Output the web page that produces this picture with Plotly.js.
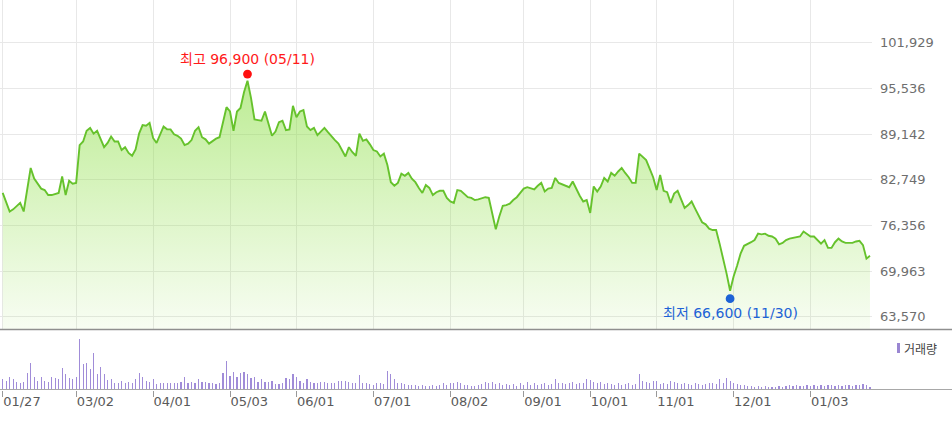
<!DOCTYPE html>
<html><head><meta charset="utf-8">
<script src="https://cdn.plot.ly/plotly-3.0.1.min.js"></script>
<style>html,body{margin:0;padding:0;background:#fff;}#chart{width:952px;height:434px;}</style>
</head><body><div id="chart"></div>
<script>
// ---- data ----
const startDate = '2021-01-27';
const endDate = '2022-01-26';
const holidays = ['2021-02-11','2021-02-12','2021-03-01','2021-05-05','2021-05-19','2021-08-16',
  '2021-09-20','2021-09-21','2021-09-22','2021-10-04','2021-10-11','2021-12-31'];

const closePrices = [
80900,79600,78300,78600,79000,79500,78300,81500,84400,82900,
82200,81500,81300,80600,80600,80800,80900,83200,80600,82600,
82200,82300,87600,88100,89600,90000,89200,89600,88300,87300,
87900,88800,88100,88100,86900,87300,86500,86100,87000,89200,
90400,90300,90700,88600,87900,89200,90200,89800,89800,89100,
88900,88500,87600,87800,88300,89600,90100,88700,88400,87800,
88200,88500,88700,90800,92900,92300,89600,92300,92800,95000,
96600,94200,91200,91100,91000,92300,90600,88900,89500,90800,
91000,89700,89800,93100,91500,92300,92500,90200,89700,90000,
89000,89500,90000,89400,88800,88300,87800,86900,86000,87300,
86600,86100,89200,88200,88400,87700,86900,86700,86000,86400,
84800,82400,81900,82300,83600,83300,83700,82900,82400,81600,
80900,82000,81600,80600,81000,81200,81200,80200,79700,79500,
81300,81200,80800,80300,80200,79900,80000,80200,80300,80200,
77900,75800,77600,79100,79200,79400,79900,80300,80900,81500,
81700,81600,81400,81900,82300,81100,81500,81600,83000,82300,
82100,81900,81700,82500,81400,80500,79700,79900,78100,81800,
81100,81800,83000,82500,83700,83300,83900,84400,83700,83100,
82300,82300,86400,85900,85500,84300,83100,81300,83400,81200,
81000,79500,80800,81200,80100,78800,79200,79700,78700,77700,
76800,76500,75900,75700,75700,73800,71800,69600,67200,69200,
70700,72400,73500,73700,74000,74300,75200,75100,75200,74900,
74800,74500,73700,73900,74300,74500,74600,74700,74800,75500,
75200,74800,74800,74300,73800,74300,73200,73200,74000,74500,
74100,73900,73900,73900,74100,74200,73600,71700,72100
];

// trading volume, thousand shares
const volumes = [
1000,870,1270,1000,770,600,770,1670,2670,1270,870,1270,870,770,1270,1100,1000,2100,1530,1100,1000,1270,
5000,2530,2670,2000,3600,1530,2200,1530,930,1000,
670,600,870,670,770,600,1000,1670,1270,870,770,1000,530,670,670,600,670,600,670,770,1270,600,770,600,1000,770,770,670,670,530,670,
1670,2870,1330,1770,1200,1670,1770,1530,1100,1270,770,1000,770,770,870,530,530,670,1100,1000,
1530,1270,870,670,1000,770,670,670,770,770,600,670,670,870,870,870,770,670,600,1430,670,600,530,430,600,600,530,1870,1530,1000,670,600,530,430,430,
430,330,430,330,330,430,330,430,600,430,670,670,770,600,430,430,330,330,430,
500,770,600,770,500,600,430,500,430,500,330,600,430,770,430,600,430,500,600,430,500,
1000,
600,670,500,600,770,500,600,670,
1000,930,
770,600,770,500,670,500,430,600,430,500,600,430,500,
1530,
870,770,600,870,
870,
500,670,500,
870,
770,600,500,600,500,430,600,500,430,500,600,670,500,
1000,600,1100,870,
670,500,430,430,
330,330,270,330,270,330,270,270,270,330,270,330,430,330,430,330,330,430,330,430,330,430,330,430,430,330,430,330,430,430,330,430,430,500,430,200
];

const tickDates = ['2021-01-27','2021-03-02','2021-04-01','2021-05-03','2021-06-01','2021-07-01',
  '2021-08-02','2021-09-01','2021-10-01','2021-11-01','2021-12-01','2022-01-03'];
const tickLabels = ['01/27','03/02','04/01','05/03','06/01','07/01','08/02','09/01','10/01','11/01','12/01','01/03'];
const priceTicks = [63570, 69963, 76356, 82749, 89142, 95536, 101929];

const highValue = 96900, highDate = '2021-05-11', highLabel = '05/11';
const lowValue = 66600, lowDate = '2021-11-30', lowLabel = '11/30';
const volumeName = '거래량';

// ---- build ----
function tradingDays(s, e, hol) {
  const out = [];
  const d = new Date(s + 'T00:00:00Z');
  const end = new Date(e + 'T00:00:00Z');
  while (d <= end) {
    const wd = d.getUTCDay();
    const iso = d.toISOString().slice(0, 10);
    if (wd !== 0 && wd !== 6 && !hol.includes(iso)) out.push(iso);
    d.setUTCDate(d.getUTCDate() + 1);
  }
  return out;
}
const dates = tradingDays(startDate, endDate, holidays);
const fmt = n => n.toLocaleString('en-US');

const W = 952, H = 434, R = 80;
const PW = W - R;
const py = px => 1 - px / H;            // pixel row -> paper fraction
const yRange = [61850, 107907];
const volRange = [0, 5430];
const FONT = 'DejaVu Sans, Noto Sans CJK KR, sans-serif';

const hiIdx = dates.indexOf(highDate);
const loIdx = dates.indexOf(lowDate);

const traces = [
  {
    type: 'scatter', mode: 'lines', x: dates, y: closePrices,
    xaxis: 'x', yaxis: 'y',
    line: {color: '#66c22c', width: 1.9},
    fill: 'tozeroy',
    fillgradient: {
      type: 'vertical',
      colorscale: [[0, 'rgba(150,226,80,0.07)'], [1, 'rgba(140,222,70,0.58)']],
      start: yRange[0], stop: Math.max(...closePrices)
    },
    hoverinfo: 'skip'
  },
  {
    type: 'bar', x: dates, y: volumes, xaxis: 'x2', yaxis: 'y2',
    width: 0.32,
    marker: {color: '#a08cd8', line: {width: 0}},
    hoverinfo: 'skip'
  }
];

const xRange = [-0.772, 248.58];

const layout = {
  width: W, height: H,
  margin: {l: 0, r: R, t: 0, b: 0},
  paper_bgcolor: '#ffffff', plot_bgcolor: 'rgba(0,0,0,0)',
  showlegend: false,
  bargap: 0,
  xaxis: {
    type: 'category', anchor: 'y', range: xRange, domain: [0, 1],
    tickvals: tickDates, ticktext: tickLabels,
    showticklabels: false, ticks: '',
    showgrid: true, gridcolor: '#e8e8e8', gridwidth: 1,
    zeroline: false, showline: false, fixedrange: true
  },
  yaxis: {
    domain: [py(329), 1], range: yRange, side: 'right',
    tickvals: priceTicks, ticktext: priceTicks.map(fmt),
    ticks: '', ticklabelstandoff: 7,
    tickfont: {family: FONT, size: 13, color: '#6e6e6e'},
    showgrid: true, gridcolor: '#e8e8e8', gridwidth: 1,
    zeroline: false, showline: false, fixedrange: true
  },
  xaxis2: {
    type: 'category', anchor: 'y2', matches: 'x', range: xRange, domain: [0, 1],
    tickvals: tickDates, ticktext: tickLabels,
    ticks: 'outside', ticklen: 6, tickwidth: 1, tickcolor: '#999999',
    ticklabelposition: 'outside right',
    tickfont: {family: FONT, size: 13, color: '#5a5a5a'},
    showgrid: false, zeroline: false, showline: false, fixedrange: true
  },
  yaxis2: {
    domain: [py(389.5), py(335)], range: volRange,
    showticklabels: false, showgrid: false, zeroline: false, ticks: '', fixedrange: true
  },
  shapes: [
    {type: 'line', xref: 'paper', yref: 'paper', x0: 0, x1: W / PW, y0: py(329.5), y1: py(329.5),
     line: {color: '#8f8f8f', width: 1.6}},
    {type: 'line', xref: 'paper', yref: 'paper', x0: 0, x1: W / PW, y0: py(389.5), y1: py(389.5),
     line: {color: '#a8a8a8', width: 1}},
    {type: 'circle', xref: 'x', yref: 'y', xsizemode: 'pixel', ysizemode: 'pixel',
     xanchor: hiIdx, yanchor: highValue, x0: -4.4, x1: 4.4, y0: 0.2, y1: 9.0,
     fillcolor: '#ff1010', line: {width: 0}},
    {type: 'circle', xref: 'x', yref: 'y', xsizemode: 'pixel', ysizemode: 'pixel',
     xanchor: loIdx, yanchor: lowValue, x0: -4.4, x1: 4.4, y0: -8.0, y1: 0.8,
     fillcolor: '#1d63d6', line: {width: 0}},
    {type: 'rect', xref: 'paper', yref: 'paper', x0: 897 / PW, x1: 900 / PW, y0: py(353), y1: py(343),
     fillcolor: '#9a86d2', line: {width: 0}}
  ],
  annotations: [
    {xref: 'x', yref: 'y', x: hiIdx, y: highValue, yshift: 19.6, showarrow: false,
     text: '최고 ' + fmt(highValue) + ' (' + highLabel + ')',
     font: {family: FONT, size: 14, color: '#ff1a1a'}},
    {xref: 'x', yref: 'y', x: loIdx, y: lowValue, yshift: -17.5, showarrow: false,
     text: '최저 ' + fmt(lowValue) + ' (' + lowLabel + ')',
     font: {family: FONT, size: 14, color: '#1d63d6'}},
    {xref: 'paper', yref: 'paper', x: 902 / PW, y: py(348), xanchor: 'left', yanchor: 'middle',
     showarrow: false, text: volumeName,
     font: {family: 'Noto Sans CJK KR, sans-serif', size: 12, color: '#444444'}}
  ]
};

Plotly.newPlot('chart', traces, layout, {displayModeBar: false, staticPlot: true});
</script>
</body></html>
